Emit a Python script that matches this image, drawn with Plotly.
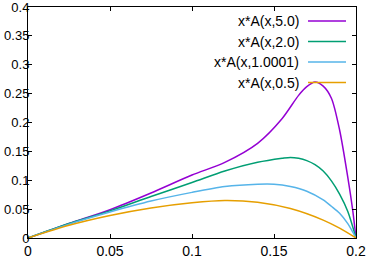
import plotly.graph_objects as go

# Series data
x_a5 = [0, 0.025, 0.05, 0.075, 0.1, 0.12, 0.14, 0.155, 0.165, 0.17, 0.175, 0.18, 0.185, 0.19, 0.195, 0.198, 0.2]
y_a5 = [0, 0.025, 0.049, 0.078, 0.109, 0.131, 0.164, 0.207, 0.247, 0.262, 0.270, 0.263, 0.242, 0.187, 0.105, 0.048, 0]

x_a2 = [0, 0.025, 0.05, 0.075, 0.1, 0.12, 0.14, 0.155, 0.16, 0.165, 0.17, 0.175, 0.18, 0.185, 0.19, 0.195, 0.2]
y_a2 = [0, 0.025, 0.047, 0.072, 0.096, 0.116, 0.131, 0.138, 0.1396, 0.138, 0.134, 0.127, 0.116, 0.099, 0.076, 0.046, 0]

x_a1 = [0, 0.025, 0.05, 0.075, 0.1, 0.12, 0.14, 0.15, 0.16, 0.17, 0.18, 0.185, 0.19, 0.195, 0.2]
y_a1 = [0, 0.024, 0.045, 0.064, 0.079, 0.089, 0.093, 0.093, 0.089, 0.081, 0.066, 0.055, 0.043, 0.025, 0]

x_a05 = [0, 0.025, 0.05, 0.075, 0.1, 0.12, 0.14, 0.16, 0.18, 0.19, 0.2]
y_a05 = [0, 0.022, 0.039, 0.052, 0.061, 0.065, 0.062, 0.051, 0.031, 0.017, 0]

names = ["x*A(x,5.0)", "x*A(x,2.0)", "x*A(x,1.0001)", "x*A(x,0.5)"]
colors = ["#9400d3", "#009e73", "#56b4e9", "#e69f00"]

x_ticks = [0, 0.05, 0.1, 0.15, 0.2]
x_tick_text = ["0", "0.05", "0.1", "0.15", "0.2"]
y_ticks = [0, 0.05, 0.1, 0.15, 0.2, 0.25, 0.3, 0.35, 0.4]
y_tick_text = ["0", "0.05", "0.1", "0.15", "0.2", "0.25", "0.3", "0.35", "0.4"]

series = [(x_a5, y_a5), (x_a2, y_a2), (x_a1, y_a1), (x_a05, y_a05)]

FONT = "Liberation Sans, Arial, sans-serif"

fig = go.Figure()
for (xs, ys), name, c in zip(series, names, colors):
    fig.add_trace(go.Scatter(x=xs, y=ys, mode="lines", name=name,
                             line=dict(color=c, width=1.5, shape="spline", smoothing=0.8),
                             showlegend=False))

# gnuplot-style key: text right-aligned, sample line to the right
W, H = 368, 258
ml, mr, mt, mb = 28, 12, 7, 20
pw, ph = W - ml - mr, H - mt - mb
shapes = []
annotations = []
for i, (name, c) in enumerate(zip(names, colors)):
    ypix = 21 + i * 20.5
    yp = (H - mb - ypix) / ph
    x_text = (301 - ml) / pw
    x0 = (308 - ml) / pw
    x1 = (346 - ml) / pw
    annotations.append(dict(x=x_text, y=yp, xref="paper", yref="paper", text=name,
                            showarrow=False, xanchor="right", yanchor="middle",
                            font=dict(size=14, color="black", family=FONT)))
    shapes.append(dict(type="line", xref="paper", yref="paper", x0=x0, x1=x1, y0=yp, y1=yp,
                       line=dict(color=c, width=1.5)))

axis_common = dict(showgrid=False, zeroline=False, showline=True, linecolor="black", linewidth=1,
                   mirror="allticks", ticks="inside", ticklen=4, tickcolor="black",
                   automargin=False, ticklabeloverflow="allow")

fig.update_layout(
    width=W, height=H,
    margin=dict(l=ml, r=mr, t=mt, b=mb, pad=0),
    plot_bgcolor="white", paper_bgcolor="white",
    xaxis=dict(range=[0, 0.2], tickvals=x_ticks, ticktext=x_tick_text,
               tickfont=dict(size=14, color="black", family=FONT), **axis_common),
    yaxis=dict(range=[0, 0.4], tickvals=y_ticks, ticktext=y_tick_text, ticklabelstandoff=-5,
               tickfont=dict(size=13, color="black", family=FONT), **axis_common),
    shapes=shapes, annotations=annotations,
)
fig.write_html("out.html", config={"displayModeBar": False},
               post_script="document.body.style.margin='0';document.body.style.padding='0';")
